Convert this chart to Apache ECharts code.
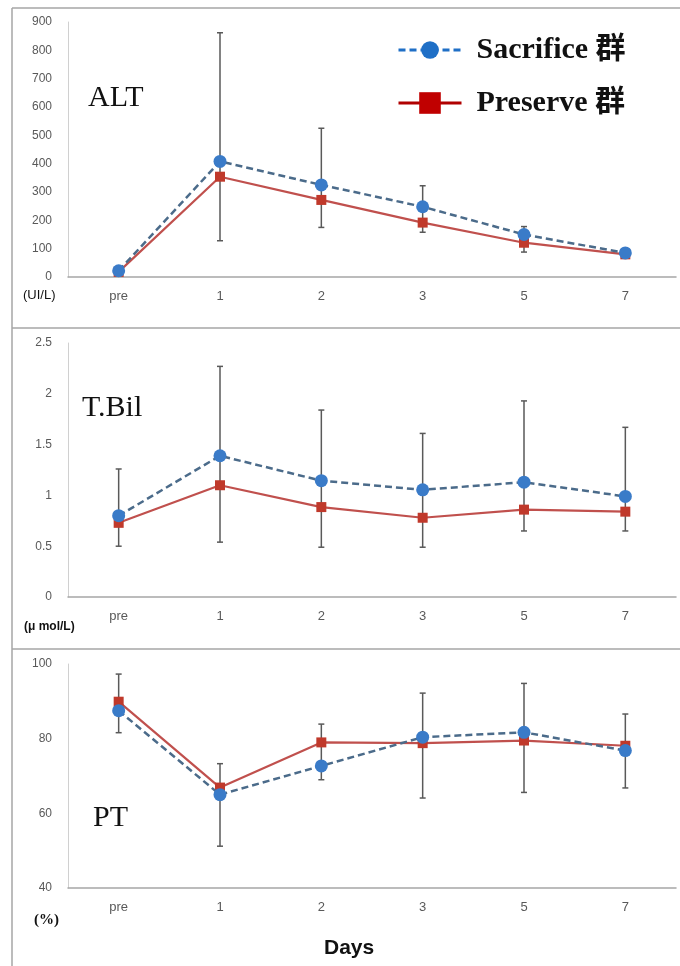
<!DOCTYPE html>
<html>
<head>
<meta charset="utf-8">
<script src="https://cdn.jsdelivr.net/npm/echarts@6/dist/echarts.min.js"></script>
<style>
  html, body { margin: 0; padding: 0; background: #fff; }
  #chart { width: 680px; height: 966px; }
</style>
</head>
<body>
<div id="chart"></div>
<script>
const days = ['pre', '1', '2', '3', '5', '7']

// ALT (UI/L)
const altSacrifice = [22, 408, 325, 248, 150, 85]
const altPreserve = [18, 354, 272, 192, 121, 80]
const altErrLow = [16, 128, 175, 158, 88, 78]
const altErrHigh = [26, 862, 525, 322, 178, 92]

// T.Bil (umol/L)
const tbilSacrifice = [0.80, 1.39, 1.145, 1.055, 1.13, 0.99]
const tbilPreserve = [0.73, 1.10, 0.885, 0.78, 0.86, 0.84]
const tbilErrLow = [0.50, 0.54, 0.49, 0.49, 0.65, 0.65]
const tbilErrHigh = [1.26, 2.27, 1.84, 1.61, 1.93, 1.67]

// PT (%)
const ptSacrifice = [87.5, 65, 72.7, 80.4, 81.7, 76.8]
const ptPreserve = [89.9, 66.9, 79, 78.8, 79.5, 78.1]
const ptErrLow = [81.6, 51.2, 69, 64.1, 65.6, 66.8]
const ptErrHigh = [97.3, 73.3, 83.9, 92.2, 94.8, 86.6]

const SAC = 'Sacrifice 群'
const PRE = 'Preserve 群'
const labelColor = '#595959'
const frameColor = '#a6a6a6'

const grids = [
  { left: 68, right: 4, top: 22, height: 255 },
  { left: 68, right: 4, top: 343, height: 254 },
  { left: 68, right: 4, top: 664, height: 224 },
]

function xAxisFor(i) {
  return {
    type: 'category', gridIndex: i, data: days,
    axisLine: { lineStyle: { color: frameColor, width: 1.5 } },
    axisTick: { show: false },
    axisLabel: { color: labelColor, fontSize: 13, margin: 13, fontFamily: 'Liberation Sans' },
  }
}

function yAxisFor(i, min, max, interval) {
  return {
    type: 'value', gridIndex: i, min, max, interval,
    axisLine: { show: true, lineStyle: { color: '#d0d0d0', width: 1 } },
    axisTick: { show: false },
    splitLine: { show: false },
    axisLabel: { color: labelColor, fontSize: 12, margin: 16, fontFamily: 'Liberation Sans' },
  }
}

function renderErr(params, api) {
  const idx = api.value(0)
  const lo = api.coord([idx, api.value(1)])
  const hi = api.coord([idx, api.value(2)])
  const cap = 3
  const style = { stroke: '#595959', lineWidth: 1.5 }
  return {
    type: 'group',
    children: [
      { type: 'line', shape: { x1: hi[0], y1: hi[1], x2: lo[0], y2: lo[1] }, style },
      { type: 'line', shape: { x1: hi[0] - cap, y1: hi[1], x2: hi[0] + cap, y2: hi[1] }, style },
      { type: 'line', shape: { x1: lo[0] - cap, y1: lo[1], x2: lo[0] + cap, y2: lo[1] }, style },
    ],
  }
}

function errSeries(i, low, high) {
  return {
    type: 'custom', xAxisIndex: i, yAxisIndex: i, z: 1,
    renderItem: renderErr,
    encode: { x: 0, y: [1, 2] },
    data: days.map((d, k) => [k, low[k], high[k]]),
    silent: true,
  }
}

function sacSeries(i, data) {
  return {
    name: SAC, type: 'line', xAxisIndex: i, yAxisIndex: i, z: 3,
    symbol: 'circle', symbolSize: 13,
    itemStyle: { color: '#3a7bc8' },
    lineStyle: { color: '#4b6b8a', width: 2.5, type: [7, 4] },
    data,
  }
}

function preSeries(i, data) {
  return {
    name: PRE, type: 'line', xAxisIndex: i, yAxisIndex: i, z: 2,
    symbol: 'rect', symbolSize: 10,
    itemStyle: { color: '#c0392b' },
    lineStyle: { color: '#c0504d', width: 2.2 },
    data,
  }
}

const serif = 'Liberation Serif, Noto Sans CJK JP'
const legendText = { fontFamily: serif, fontWeight: 'bold', fontSize: 30, color: '#111', lineHeight: 30, padding: [0, 0, 0, 10] }

const option = {
  backgroundColor: '#fff',
  animation: false,
  grid: grids,
  xAxis: [xAxisFor(0), xAxisFor(1), xAxisFor(2)],
  yAxis: [yAxisFor(0, 0, 900, 100), yAxisFor(1, 0, 2.5, 0.5), yAxisFor(2, 40, 100, 20)],
  legend: [
    {
      orient: 'vertical', left: 397, top: 35, padding: 0,
      itemWidth: 63, itemHeight: 22,
      textStyle: legendText,
      data: [{ name: SAC, itemStyle: { color: '#1f6fc6' }, lineStyle: { color: '#1f6fc6', width: 3 } }],
    },
    {
      orient: 'vertical', left: 397, top: 88, padding: 0,
      itemWidth: 63, itemHeight: 27,
      textStyle: legendText,
      data: [{ name: PRE, itemStyle: { color: '#c00000' }, lineStyle: { color: '#b00000', width: 3 } }],
    },
  ],
  graphic: [
    // panel frame
    { type: 'line', shape: { x1: 12, y1: 8, x2: 680, y2: 8 }, style: { stroke: frameColor, lineWidth: 1.5 } },
    { type: 'line', shape: { x1: 12, y1: 8, x2: 12, y2: 966 }, style: { stroke: frameColor, lineWidth: 1.5 } },
    { type: 'line', shape: { x1: 12, y1: 328, x2: 680, y2: 328 }, style: { stroke: frameColor, lineWidth: 1.5 } },
    { type: 'line', shape: { x1: 12, y1: 649, x2: 680, y2: 649 }, style: { stroke: frameColor, lineWidth: 1.5 } },
    // panel titles
    { type: 'text', left: 88, top: 83, style: { text: 'ALT', font: '30px Liberation Serif', fill: '#111' } },
    { type: 'text', left: 82, top: 393, style: { text: 'T.Bil', font: '30px Liberation Serif', fill: '#111' } },
    { type: 'text', left: 93, top: 803, style: { text: 'PT', font: '30px Liberation Serif', fill: '#111' } },
    // units
    { type: 'text', left: 23, top: 289, style: { text: '(UI/L)', font: '13px Liberation Sans', fill: '#111' } },
    { type: 'text', left: 24, top: 621, style: { text: '(μ mol/L)', font: 'bold 12px Liberation Sans', fill: '#111' } },
    { type: 'text', left: 34, top: 913, style: { text: '(%)', font: 'bold 15px Liberation Serif', fill: '#111' } },
    // x title
    { type: 'text', left: 324, top: 938, style: { text: 'Days', font: 'bold 21px Liberation Sans', fill: '#111' } },
  ],
  series: [
    errSeries(0, altErrLow, altErrHigh),
    errSeries(1, tbilErrLow, tbilErrHigh),
    errSeries(2, ptErrLow, ptErrHigh),
    preSeries(0, altPreserve),
    sacSeries(0, altSacrifice),
    preSeries(1, tbilPreserve),
    sacSeries(1, tbilSacrifice),
    preSeries(2, ptPreserve),
    sacSeries(2, ptSacrifice),
  ],
}

const chart = echarts.init(document.getElementById('chart'))
chart.setOption(option)
</script>
</body>
</html>
